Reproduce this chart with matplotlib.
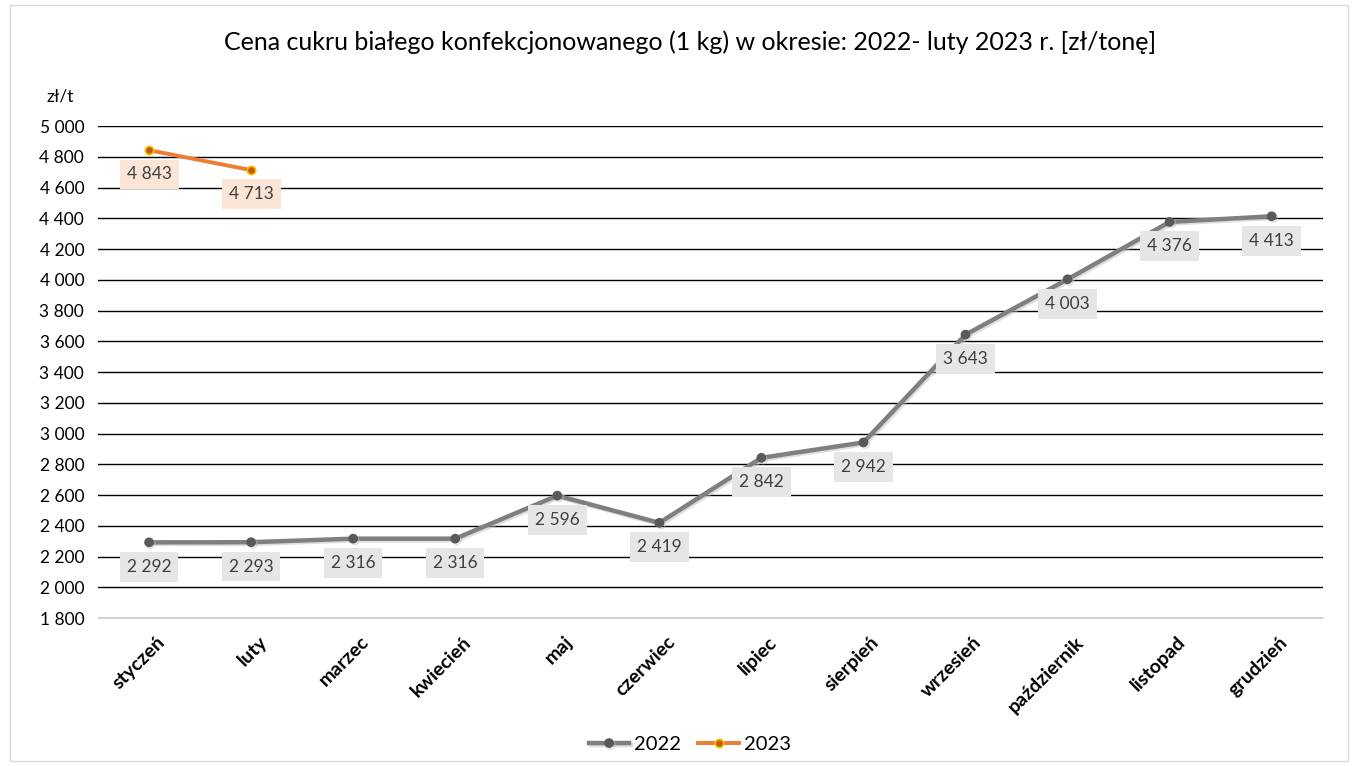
import matplotlib.pyplot as plt
import matplotlib.patheffects as pe
import matplotlib.transforms as mtrans
from matplotlib.ticker import FuncFormatter

miesiace = ['styczeń', 'luty', 'marzec', 'kwiecień', 'maj', 'czerwiec',
            'lipiec', 'sierpień', 'wrzesień', 'październik', 'listopad', 'grudzień']
ceny_2022 = [2292, 2293, 2316, 2316, 2596, 2419, 2842, 2942, 3643, 4003, 4376, 4413]
ceny_2023 = [4843, 4713]

plt.rcParams['font.family'] = ['Lato', 'DejaVu Sans']

def fmt(v):
    return f"{int(v):,}".replace(',', ' ')

fig = plt.figure(figsize=(13.58, 7.66), dpi=100)
ax = fig.add_axes([0.0722, 0.1932, 0.9018, 0.6423])

# ramka wykresu
fig.patches.append(plt.Rectangle((0.007, 0.007), 0.986, 0.986, transform=fig.transFigure,
                                 fill=False, edgecolor='#d9d9d9', linewidth=1))

x = list(range(len(miesiace)))
cien = [pe.SimpleLineShadow(offset=(1.2, -1.2), shadow_color='#bfbfbf', alpha=0.5), pe.Normal()]

ax.plot(x, ceny_2022, color='#7f7f7f', linewidth=3.2, marker='o', markersize=6,
        markerfacecolor='#595959', markeredgecolor='#595959', label='2022',
        path_effects=cien, zorder=3)
ax.plot(x[:len(ceny_2023)], ceny_2023, color='#ED7D31', linewidth=2.8, marker='o', markersize=6,
        markerfacecolor='#C55A11', markeredgecolor='#FFC000', markeredgewidth=1.2,
        label='2023', zorder=4)

for xi, v in zip(x, ceny_2022):
    ax.annotate(fmt(v), (xi, v), xytext=(0, -17.5), textcoords='offset points',
                ha='center', va='center', fontsize=12.5, color='#404040', zorder=5,
                bbox=dict(boxstyle='square,pad=0.4', facecolor='#E7E6E6', edgecolor='none'))
for xi, v in zip(x, ceny_2023):
    ax.annotate(fmt(v), (xi, v), xytext=(0, -17.5), textcoords='offset points',
                ha='center', va='center', fontsize=12.5, color='#404040', zorder=5,
                bbox=dict(boxstyle='square,pad=0.4', facecolor='#FBE5D6', edgecolor='none'))

ax.set_xlim(-0.5, len(miesiace) - 0.5)
ax.set_ylim(1800, 5000)
ax.set_yticks(range(1800, 5001, 200))
ax.yaxis.set_major_formatter(FuncFormatter(lambda v, p: fmt(v)))
ax.grid(axis='y', color='#000000', linewidth=1)
ax.set_axisbelow(True)
for s in ['top', 'right', 'left']:
    ax.spines[s].set_visible(False)
ax.spines['bottom'].set_color('#d9d9d9')
ax.tick_params(axis='both', length=0, labelsize=12.5, colors='#000000')
ax.tick_params(axis='y', pad=10)

ax.set_xticks(x)
ax.set_xticklabels(miesiace, rotation=45, ha='right', rotation_mode='anchor',
                   fontweight='bold', fontsize=14)
ax.tick_params(axis='x', pad=11)
# wyśrodkowanie etykiet pod punktami
for lab in ax.get_xticklabels():
    lab.set_transform(lab.get_transform() + mtrans.ScaledTranslation(0.07, 0, fig.dpi_scale_trans))

ax.text(-0.031, 1.06, 'zł/t', transform=ax.transAxes, fontsize=12.5, ha='center', va='center')

fig.text(0.508, 0.945, 'Cena cukru białego konfekcjonowanego (1 kg) w okresie: 2022- luty 2023 r. [zł/tonę]',
         ha='center', va='center', fontsize=18, color='#000000')

fig.legend(loc='center', bbox_to_anchor=(0.508, 0.028), ncol=2, frameon=False, fontsize=14.5,
           handlelength=2.0, columnspacing=0.85, handletextpad=0.25)

fig.savefig('out.png', dpi=100)
